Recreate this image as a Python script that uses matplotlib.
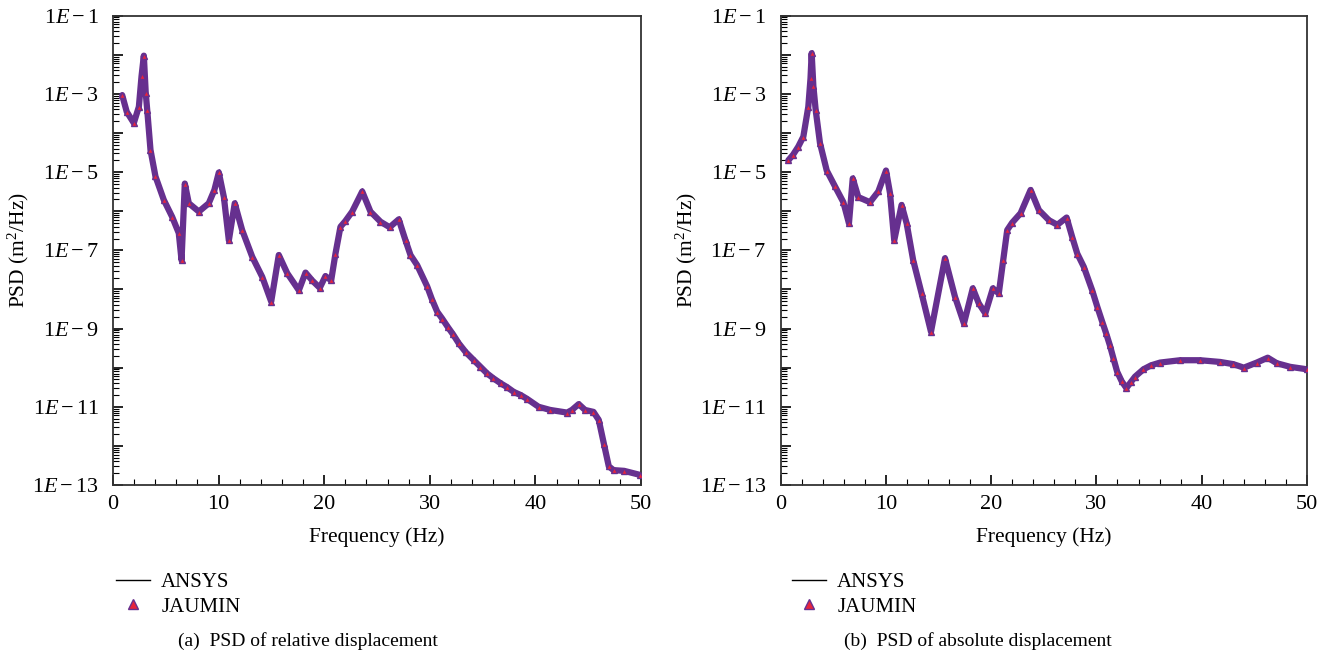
import numpy as np
from matplotlib import pyplot as plt
from matplotlib.lines import Line2D
from matplotlib.ticker import LogLocator, MultipleLocator, FuncFormatter, NullFormatter

plt.rcParams['font.family'] = ['Liberation Serif', 'DejaVu Serif']
plt.rcParams['mathtext.fontset'] = 'custom'
plt.rcParams['mathtext.rm'] = 'Liberation Serif'
plt.rcParams['mathtext.it'] = 'Liberation Serif:italic'

# (a) PSD of relative displacement
freq_rel = [0.87, 1.3, 1.97, 2.45, 2.7, 2.92, 3.1, 3.24, 3.55, 4.02, 4.81, 5.6, 6.23, 6.49,
            6.8, 7.18, 8.13, 9.07, 9.6, 10.02, 10.5, 10.97, 11.53, 12.23, 13.18, 14.13, 14.98,
            15.7, 16.5, 17.6, 18.23, 18.86, 19.58, 20.12, 20.66, 21.07, 21.54, 22.0, 22.65,
            23.6, 24.38, 25.33, 26.2, 27.06, 27.7, 28.17, 28.8, 29.75, 30.2, 30.7, 31.17, 31.7,
            32.2, 32.74, 33.4, 34.17, 34.8, 35.43, 36.0, 36.7, 37.3, 37.95, 38.6, 39.2, 40.3,
            41.4, 43.0, 43.46, 44.1, 44.7, 45.5, 46.0, 46.48, 46.95, 47.4, 48.4, 49.95]
psd_rel = [9.3e-4, 3.5e-4, 1.8e-4, 4.7e-4, 2.8e-3, 9.5e-3, 1.05e-3, 3.9e-4, 3.7e-5, 7.8e-6,
           1.95e-6, 7.2e-7, 2.75e-7, 5.6e-8, 5.1e-6, 1.6e-6, 9.8e-7, 1.6e-6, 3.5e-6, 9.8e-6,
           2.3e-6, 1.8e-7, 1.6e-6, 3.3e-7, 6.9e-8, 2.1e-8, 4.9e-9, 7.6e-8, 2.6e-8, 9.5e-9,
           2.7e-8, 1.7e-8, 1.1e-8, 2.2e-8, 1.7e-8, 8.3e-8, 4.0e-7, 5.6e-7, 9.8e-7, 3.2e-6,
           9.8e-7, 5.4e-7, 3.9e-7, 6.2e-7, 1.8e-7, 7.6e-8, 4.2e-8, 1.2e-8, 5.6e-9, 2.7e-9,
           1.8e-9, 1.1e-9, 7.1e-10, 4.2e-10, 2.5e-10, 1.55e-10, 1.05e-10, 7.1e-11, 5.4e-11,
           4.0e-11, 3.2e-11, 2.4e-11, 2.0e-11, 1.6e-11, 1.0e-11, 8.3e-12, 7.1e-12, 8.3e-12,
           1.17e-11, 8.3e-12, 7.4e-12, 4.6e-12, 1.15e-12, 3.0e-13, 2.4e-13, 2.3e-13, 1.8e-13]

# (b) PSD of absolute displacement
freq_abs = [0.74, 1.2, 1.69, 2.17, 2.64, 2.85, 2.96, 3.12, 3.34, 3.75, 4.39, 5.18, 5.97, 6.5,
            6.86, 7.39, 8.5, 9.29, 10.02, 10.4, 10.8, 11.5, 11.98, 12.6, 13.4, 14.29, 15.62,
            16.57, 17.42, 18.26, 18.83, 19.45, 20.17, 20.73, 21.15, 21.53, 22.0, 22.8, 23.75,
            24.54, 25.49, 26.29, 27.17, 27.7, 28.18, 28.8, 29.6, 30.1, 30.55, 30.9, 31.27, 31.6,
            31.97, 32.4, 32.85, 33.25, 33.67, 34.47, 35.2, 36.05, 37.95, 39.85, 41.75, 43.0,
            44.0, 45.23, 46.27, 47.13, 48.4, 49.98]
psd_abs = [2.0e-5, 2.8e-5, 4.5e-5, 8.1e-5, 4.7e-4, 2.5e-3, 1.1e-2, 1.6e-3, 3.9e-4, 5.5e-5,
           1.1e-5, 4.3e-6, 1.7e-6, 4.9e-7, 6.9e-6, 2.3e-6, 1.7e-6, 3.2e-6, 1.1e-5, 2.9e-6,
           1.8e-7, 1.45e-6, 4.9e-7, 5.6e-8, 7.9e-9, 8.3e-10, 6.3e-8, 6.5e-9, 1.35e-9, 1.07e-8,
           4.4e-9, 2.45e-9, 1.07e-8, 7.9e-9, 5.6e-8, 3.3e-7, 5.1e-7, 8.9e-7, 3.5e-6, 1.07e-6,
           5.9e-7, 4.5e-7, 6.9e-7, 2.2e-7, 8.3e-8, 3.8e-8, 9.5e-9, 3.5e-9, 1.5e-9, 7.9e-10,
           3.8e-10, 1.8e-10, 7.9e-11, 4.5e-11, 3.0e-11, 4.2e-11, 5.9e-11, 9.1e-11, 1.15e-10,
           1.35e-10, 1.55e-10, 1.55e-10, 1.4e-10, 1.23e-10, 1.0e-10, 1.35e-10, 1.8e-10,
           1.3e-10, 1.05e-10, 9.1e-11]

PURPLE = '#66308f'
RED = '#e8243c'


def y_label(val, pos):
    e = int(round(np.log10(val)))
    if e % 2 == 0:
        return ''
    return r'$1E-%d$' % (-e)


def draw_panel(ax, freq, psd):
    # 密集的三角形点在原图里连成一条紫色粗带
    ax.plot(freq, psd, color=PURPLE, lw=4.5, solid_capstyle='round', zorder=2)
    ax.plot(freq, psd, linestyle='none', marker='^', markersize=5,
            markerfacecolor=RED, markeredgecolor=PURPLE, markeredgewidth=1.0, zorder=3)
    ax.plot(freq, psd, color='black', lw=0.8, zorder=1)

    ax.set_yscale('log')
    ax.set_xlim(0, 50)
    ax.set_ylim(1e-13, 1e-1)
    ax.xaxis.set_major_locator(MultipleLocator(10))
    ax.xaxis.set_minor_locator(MultipleLocator(2))
    ax.yaxis.set_major_locator(LogLocator(base=10, numticks=20))
    ax.yaxis.set_minor_locator(LogLocator(base=10, subs=np.arange(2, 10), numticks=20))
    ax.yaxis.set_major_formatter(FuncFormatter(y_label))
    ax.yaxis.set_minor_formatter(NullFormatter())
    ax.tick_params(which='both', direction='in', top=False, right=False, labelsize=16)
    ax.tick_params(axis='x', which='major', pad=7)
    ax.tick_params(axis='y', which='major', pad=10)
    ax.tick_params(which='major', length=7, width=1.2)
    ax.tick_params(which='minor', length=4, width=0.8)
    for s in ax.spines.values():
        s.set_linewidth(1.3)
        s.set_color('#333333')
    ax.set_xlabel('Frequency (Hz)', fontsize=15.5, labelpad=10)
    ax.set_ylabel(r'PSD (m$^2$/Hz)', fontsize=15.5)
    ax.yaxis.set_label_coords(-0.155, 0.5)


fig = plt.figure(figsize=(13.27, 6.59), dpi=100)
W, H = 1327, 659
ax1 = fig.add_axes([113 / W, 1 - 485 / H, (641 - 113) / W, (485 - 15.7) / H])
ax2 = fig.add_axes([780.5 / W, 1 - 485 / H, (1307 - 780.5) / W, (485 - 15.7) / H])

draw_panel(ax1, freq_rel, psd_rel)
draw_panel(ax2, freq_abs, psd_abs)

handles = [Line2D([], [], color='black', lw=1.0),
           Line2D([], [], linestyle='none', marker='^', markersize=7,
                  markerfacecolor=RED, markeredgecolor=PURPLE, markeredgewidth=1.0)]
names = ['ANSYS', 'JAUMIN']
for x0 in (108, 784):
    fig.legend(handles, names, loc='upper left', bbox_to_anchor=(x0 / W, 1 - 564 / H),
               frameon=False, fontsize=15, handlelength=1.6, handletextpad=0.55,
               labelspacing=0.25, borderaxespad=0)

fig.text(308 / W, 1 - 641 / H, '(a)  PSD of relative displacement', ha='center', va='center', fontsize=14)
fig.text(978 / W, 1 - 641 / H, '(b)  PSD of absolute displacement', ha='center', va='center', fontsize=14)

fig.savefig('out.png', dpi=100)
